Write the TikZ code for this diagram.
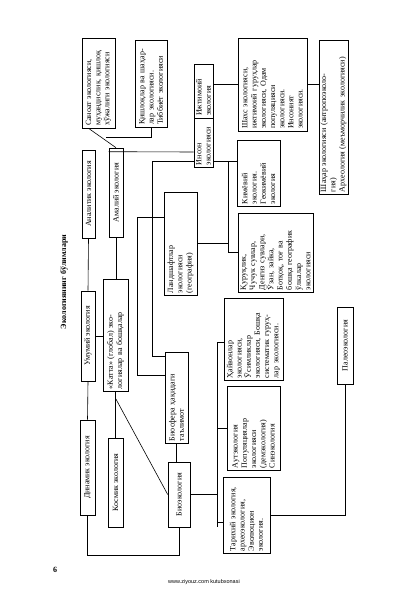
\documentclass[tikz,border=0pt]{standalone}
\usepackage{fontspec}
\setmainfont{Liberation Serif}
\setsansfont{Liberation Sans}
\usetikzlibrary{calc, positioning}
\tikzset{
    bolim/.style={draw, rotate=90, inner sep=1.5pt, align=left,
        font=\fontsize{8}{9.2}\selectfont, line width=.6pt},
    yakka/.style={bolim, align=center},
    ulagich/.style={line width=.6pt},
}

\begin{document}
\begin{tikzpicture}[x=1pt, y=-1pt]
    \useasboundingbox (0, 0) rectangle (409, 596);
    % sarlavha
    \node[rotate=90, font=\bfseries\fontsize{8}{9}\selectfont] (sarlavha)
        at (64, 282) {Экологиянинг бўлимлари};
    % chap ustun
    \node[bolim, minimum width=90, minimum height=33, text width=86] (sanoat)
        at (98.5, 83) {Саноат экологияси,\\муҳандислик, қишлоқ\\хўжалиги экологияси};
    \node[bolim, minimum width=87, minimum height=32, text width=83] (qishloq)
        at (151, 83.5) {Қишлоқлар ва шаҳар-\\лар экологияси.\\Тиббиёт экологияси};
    \node[yakka, minimum width=88, minimum height=13] (analitik)
        at (88.5, 194) {Аналитик экология};
    \node[yakka, minimum width=89, minimum height=14] (amaliy)
        at (116, 192.5) {Амалий экология};
    \node[yakka, minimum width=90, minimum height=14] (umumiy)
        at (88, 336) {Умумий экология};
    \node[bolim, minimum width=112, minimum height=25, text width=108] (katta)
        at (115.5, 335) {«Катта» (глобал) эко-\\логиялар ва бошқалар};
    \node[yakka, minimum width=95, minimum height=15] (dinamik)
        at (87.5, 467.5) {Динамик экология};
    \node[yakka, minimum width=89, minimum height=15] (kosmik)
        at (115.5, 482.5) {Космик экология};
    % orta ustun
    \node[bolim, minimum width=54, minimum height=19, text width=50] (ijtimoiy)
        at (203.5, 91) {Ижтимоий\\экология};
    \node[bolim, minimum width=49, minimum height=19, text width=45] (inson)
        at (203.5, 142.5) {Инсон\\экологияси};
    \node[bolim, minimum width=103, minimum height=33, text width=99] (landshaft)
        at (180.5, 243.5) {Ландшафтлар\\экологияси\\(география)};
    \node[bolim, minimum width=91, minimum height=23, text width=87] (biosfera)
        at (176.5, 397.5) {Биосфера ҳақидаги\\таълимот};
    \node[yakka, minimum width=65, minimum height=22] (bioek)
        at (179, 494.5) {Биоэкология};
    % ong ustun
    \node[bolim, minimum width=93, minimum height=69, text width=89] (shaxs)
        at (272.5, 84.5) {Шахс экологияси,\\ижтимоий гуруҳлар\\экологияси, Одам\\популяцияси\\экологияси.\\Инсоният\\экологияси.};
    \node[bolim, minimum width=154, minimum height=29, text width=150] (shahar)
        at (333.5, 117) {Шаҳар экологияси (антропоэколо-\\гия)\\Археология (меъморчилик экологияси)};
    \node[bolim, minimum width=66, minimum height=43, text width=62] (kimyoviy)
        at (258.5, 173) {Кимёвий\\экология.\\Геокимёвий\\экология};
    \node[bolim, minimum width=79, minimum height=75, text width=75] (quruqlik)
        at (275.5, 252.5) {Қуруқлик,\\Чучук сувлар,\\Денгиз сувлари,\\Ўзан, зайка,\\Ботқоқ, тоғ ва\\бошқа географик\\ўлкалар\\экологияси};
    \node[bolim, minimum width=82, minimum height=59, text width=78] (hayvon)
        at (253.5, 339) {Ҳайвонлар\\экологияси,\\Ўсимликлар\\экологияси, Бошқа\\систематик гуруҳ-\\лар экологияси.};
    \node[yakka, minimum width=77, minimum height=16] (paleo)
        at (345, 345.5) {Палеоэкология};
    \node[bolim, minimum width=84, minimum height=53, text width=80] (autek)
        at (253.5, 428) {Аутэкология\\Популяциялар\\экологияси\\(демэкология)\\Синэкология};
    \node[bolim, minimum width=76, minimum height=47, text width=72] (tarixiy)
        at (246.5, 515) {Тарихий экология,\\археоэкология,\\Эволюцион\\экология.};
    % ulagichlar
    \draw[ulagich] ([xshift=-10pt]sanoat.west) -- (amaliy.east);
    \draw[ulagich] (qishloq.west) -- ++(0, 10) -- ++(-45, 0);
    \draw[ulagich] (analitik.west) -- (umumiy.east);
    \draw[ulagich] (umumiy.west) -- (dinamik.east);
    \draw[ulagich] (dinamik.west) -- ++(0, 40) -| (bioek.west);
    \draw[ulagich] (amaliy.west) -- (amaliy.west |- katta.east);
    \draw[ulagich] (katta.west) -- (katta.west |- kosmik.east);
    \draw[ulagich] (umumiy.south) -- (umumiy.south -| katta.north);
    \draw[ulagich] ($(katta.west)!.15!(kosmik.east)$) -- (bioek.north);
    \draw[ulagich] (biosfera.west) -- (biosfera.west |- bioek.east);
    \draw[ulagich] (shaxs.north) -- (shaxs.north -| ijtimoiy.south);
    \draw[ulagich] (shaxs.south) -- (shaxs.south -| shahar.north);
    % amaliy -> inson -> biosfera
    \coordinate (insonpast) at (inson.north |- 0, 161);
    \draw[ulagich] ([yshift=-4pt]amaliy.north east) -- (inson.north |- 0, 152);
    \draw[ulagich] (insonpast) -- (152, 161) -- (152, 356)
        -- (biosfera.north |- 0, 356);
    % landshaft
    \coordinate (lshina) at (228, 161);
    \draw[ulagich] (inson.south |- lshina) -- (kimyoviy.north |- lshina);
    \draw[ulagich] (lshina) |- (quruqlik.north);
    \draw[ulagich] (landshaft.south) -- (landshaft.south -| lshina);
    \draw[ulagich] (landshaft.north |- 0, 217) -- (137, 217) -- (137, 375)
        -- (biosfera.north |- 0, 375);
    % bioekologiya shinasi
    \coordinate (shina) at (217, 342);
    \draw[ulagich] (hayvon.north |- shina) -- (shina) -- (217, 527);
    \draw[ulagich] (bioek.south) -- (bioek.south -| shina);
    \draw[ulagich] (autek.north) -- (autek.north -| shina);
    \draw[ulagich] (tarixiy.north |- 0, 522) -- (217, 522);
    \draw[ulagich] (paleo.west) |- (tarixiy.south);
    % sahifa
    \node[font=\fontsize{8}{9}\selectfont\bfseries] (sahifa) at (55, 570) {6};
    \node[font=\sffamily\fontsize{5.5}{6}\selectfont] (manba) at (204, 582)
        {www.ziyouz.com kutubxonasi};
\end{tikzpicture}
\end{document}
